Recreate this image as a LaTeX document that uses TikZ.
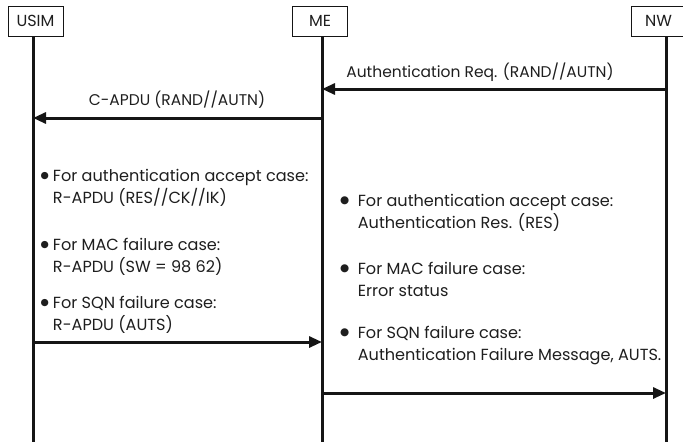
\documentclass[tikz,border=0pt]{standalone}
\usepackage{fontspec}
\setmainfont{Poppins}
\newfontfamily\symfont{DejaVu Sans}
\usetikzlibrary{arrows.meta}
\definecolor{ink}{HTML}{151515}
\definecolor{txt}{HTML}{1E1E1E}
% two-line bullet entry: bullet size, gap, first line, second line
\newcommand{\bulletentry}[4]{%
  \begin{tabular}[t]{@{}l@{\hspace{#2}}l@{}}
    \raisebox{2.2pt}{\symfont\fontsize{#1}{#1}\selectfont ●} & #3\\
                & #4
  \end{tabular}}
\begin{document}
\begin{tikzpicture}[x=1pt,y=-1pt,
    hdr/.style={draw=ink, line width=0.9pt, minimum width=55pt, minimum height=30pt,
                inner sep=0pt, text=txt, font=\fontsize{16}{18}\selectfont},
    lifeline/.style={draw=ink, line width=3pt},
    msg/.style={draw=ink, line width=3pt, -{Triangle[length=13pt,width=11pt]}},
    lbl/.style={inner sep=0pt, text=txt, font=\fontsize{15.5}{18}\selectfont},
    note/.style={inner sep=0pt, text=txt, anchor=base west,
                 font=\fontsize{16.1}{22}\selectfont}]
\useasboundingbox (0,0) rectangle (683,442);

% participants
\node[hdr] (usim) at (35.5,21) {USIM};
\node[hdr] (me)   at (320,21)  {ME};
\node[hdr] (nw)   at (658.5,21) {NW};

% lifelines
\coordinate (usimT) at (33,36);  \coordinate (usimB) at (33,442);
\coordinate (meT)   at (322,36); \coordinate (meB)   at (322,442);
\coordinate (nwT)   at (666,36); \coordinate (nwB)   at (666,442);
\draw[lifeline] (usimT) -- (usimB);
\draw[lifeline] (meT) -- (meB);
\draw[lifeline] (nwT) -- (nwB);

% messages
\draw[msg] (nwT |- 0,89)  -- (meT |- 0,89);
\draw[msg] (meT |- 0,118) -- (usimT |- 0,118);
\draw[msg] (usimT |- 0,342) -- (meT |- 0,342);
\draw[msg] (meT |- 0,393) -- (nwT |- 0,393);

% message labels
\node[lbl] (reqlbl)  at (480,72)  {Authentication Req. (RAND//AUTN)};
\node[lbl] (capdu)   at (177,100) {C-APDU (RAND//AUTN)};

% USIM responses
\node[note] (u1) at (40.5,181) {\bulletentry{9.5pt}{4pt}{For authentication accept case:}{R-APDU (RES//CK//IK)}};
\node[note] (u2) at (40.5,250) {\bulletentry{9.5pt}{4pt}{For MAC failure case:}{R-APDU (SW = 98 62)}};
\node[note] (u3) at (40.5,308) {\bulletentry{9.5pt}{4pt}{For SQN failure case:}{R-APDU (AUTS)}};

% ME responses
\node[note] (n1) at (340,206) {\bulletentry{10.5pt}{8.5pt}{For authentication accept case:}{Authentication Res. (RES)}};
\node[note] (n2) at (340,274) {\bulletentry{10.5pt}{8.5pt}{For MAC failure case:}{Error status}};
\node[note] (n3) at (340,338) {\bulletentry{10.5pt}{8.5pt}{For SQN failure case:}{Authentication Failure Message, AUTS.}};
\end{tikzpicture}
\end{document}
